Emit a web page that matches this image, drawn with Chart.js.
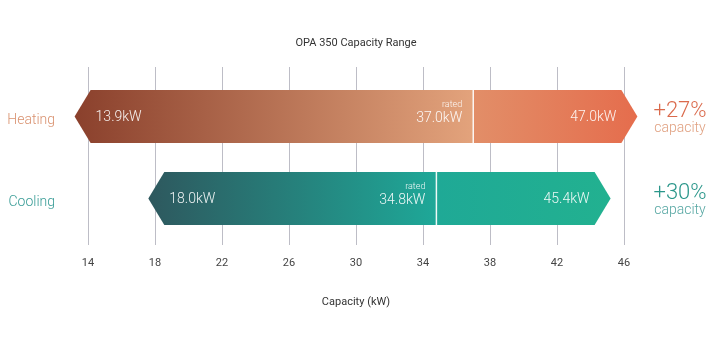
<!DOCTYPE html>
<html>
<head>
<meta charset="utf-8">
<script src="https://cdn.jsdelivr.net/npm/chart.js@4.4.0/dist/chart.umd.min.js"></script>
<style>
html, body { margin: 0; padding: 0; background: #fff; }
#wrap { width: 719px; height: 346px; }
</style>
</head>
<body>
<div id="wrap"><canvas id="capacityChart"></canvas></div>
<script>
// data
const systems = ['Heating', 'Cooling'];
const minCapacity = [13.9, 18.0];
const ratedCapacity = [37.0, 34.8];
const maxCapacity = [47.0, 45.4];
// where the arrow tips sit on the axis
const arrowStart = [13.2, 17.6];
const arrowEnd = [46.8, 45.2];
const gainLabels = ['+27%', '+30%'];
const xTicks = [14, 18, 22, 26, 30, 34, 38, 42, 46];

const palette = [
    { label: '#D9916F', gain: '#DA6A4C', sub: '#E0A080', left: ['#8A402C', '#E3A37C'], right: ['#E28E68', '#E56D4D'] },
    { label: '#389C96', gain: '#2A968A', sub: '#55A6A2', left: ['#2E585E', '#1EA898'], right: ['#1FA996', '#22B190'] }
];

const FONT = "Roboto, 'Noto Sans', sans-serif";

const rangeArrows = {
    id: 'rangeArrows',
    afterDatasetsDraw(chart) {
        const { ctx, chartArea } = chart;
        const x = chart.scales.x, y = chart.scales.y;
        const meta = chart.getDatasetMeta(0);
        const d = 16;

        systems.forEach((name, i) => {
            const bar = meta.data[i];
            const cy = y.getPixelForValue(i);
            const h = bar.height;
            const top = cy - h / 2, bot = cy + h / 2;
            const x0 = x.getPixelForValue(arrowStart[i]);
            const x1 = x.getPixelForValue(arrowEnd[i]);
            const xr = x.getPixelForValue(ratedCapacity[i]);
            const c = palette[i];

            const shape = () => {
                ctx.beginPath();
                ctx.moveTo(x0, cy);
                ctx.lineTo(x0 + d, top);
                ctx.lineTo(x1 - d, top);
                ctx.lineTo(x1, cy);
                ctx.lineTo(x1 - d, bot);
                ctx.lineTo(x0 + d, bot);
                ctx.closePath();
            };

            // left part: min -> rated
            ctx.save();
            ctx.beginPath();
            ctx.rect(x0 - 1, top - 1, xr - x0 + 1, h + 2);
            ctx.clip();
            let g = ctx.createLinearGradient(x0, 0, xr, 0);
            g.addColorStop(0, c.left[0]);
            g.addColorStop(1, c.left[1]);
            ctx.fillStyle = g;
            shape();
            ctx.fill();
            ctx.restore();

            // right part: rated -> max
            ctx.save();
            ctx.beginPath();
            ctx.rect(xr, top - 1, x1 - xr + 1, h + 2);
            ctx.clip();
            g = ctx.createLinearGradient(xr, 0, x1, 0);
            g.addColorStop(0, c.right[0]);
            g.addColorStop(1, c.right[1]);
            ctx.fillStyle = g;
            shape();
            ctx.fill();
            ctx.restore();

            // rated marker
            ctx.save();
            ctx.strokeStyle = 'rgba(255,255,255,0.9)';
            ctx.lineWidth = 1.5;
            ctx.beginPath();
            ctx.moveTo(xr, top);
            ctx.lineTo(xr, bot);
            ctx.stroke();

            // labels inside the bar
            ctx.fillStyle = 'rgba(255,255,255,0.92)';
            ctx.textBaseline = 'middle';
            ctx.font = '300 14px ' + FONT;
            ctx.textAlign = 'left';
            ctx.fillText(minCapacity[i].toFixed(1) + 'kW', x0 + 21, cy + 1);
            ctx.textAlign = 'right';
            ctx.fillText(ratedCapacity[i].toFixed(1) + 'kW', xr - 11, cy + 2);
            ctx.fillText(maxCapacity[i].toFixed(1) + 'kW', x1 - 21, cy + 1);
            ctx.font = '300 9px ' + FONT;
            ctx.fillText('rated', xr - 11, cy - 12);

            // gain note on the right
            ctx.textAlign = 'center';
            ctx.fillStyle = c.gain;
            ctx.font = '300 22px ' + FONT;
            ctx.fillText(gainLabels[i], chartArea.right + 56, cy - 5);
            ctx.fillStyle = c.sub;
            ctx.font = '300 14px ' + FONT;
            ctx.fillText('capacity', chartArea.right + 56, cy + 12);
            ctx.restore();
        });
    }
};

new Chart(document.getElementById('capacityChart'), {
    type: 'bar',
    data: {
        datasets: [{
            label: 'Capacity range',
            data: systems.map((s, i) => ({ y: i, x: [arrowStart[i], arrowEnd[i]] })),
            backgroundColor: 'rgba(0,0,0,0)',
            borderWidth: 0,
            barThickness: 53
        }]
    },
    options: {
        indexAxis: 'y',
        responsive: true,
        maintainAspectRatio: false,
        animation: false,
        layout: { padding: { left: 0, right: 7, top: 0, bottom: 0 } },
        plugins: {
            legend: { display: false },
            tooltip: { enabled: false },
            title: {
                display: true,
                text: 'OPA 350 Capacity Range',
                color: '#333',
                font: { size: 11, family: FONT, weight: 'normal' },
                padding: { top: 37, bottom: 16.8 }
            }
        },
        scales: {
            x: {
                type: 'linear',
                min: 14,
                max: 46,
                afterBuildTicks: scale => { scale.ticks = xTicks.map(v => ({ value: v })); },
                afterFit: scale => { scale.height = 101; },
                grid: { color: '#BDBDC6', lineWidth: 1, drawTicks: false },
                border: { display: false },
                ticks: { color: '#444', padding: 12, font: { size: 11, family: FONT } },
                title: {
                    display: true,
                    text: 'Capacity (kW)',
                    color: '#333',
                    font: { size: 11, family: FONT },
                    padding: { top: 0, bottom: 37.5 }
                }
            },
            y: {
                type: 'linear',
                reverse: true,
                offset: false,
                min: -0.604,
                max: 1.567,
                afterBuildTicks: scale => { scale.ticks = systems.map((s, i) => ({ value: i })); },
                afterFit: scale => { scale.width = 88; },
                grid: { display: false, drawTicks: false },
                border: { display: false },
                ticks: {
                    padding: 33,
                    labelOffset: 4,
                    font: { size: 14, family: FONT, weight: '300' },
                    color: c => palette[c.tick ? c.tick.value : 0].label,
                    callback: v => systems[v]
                }
            },
            // empty strip on the right for the gain notes
            side: {
                type: 'linear',
                axis: 'y',
                position: 'right',
                display: true,
                afterFit: scale => { scale.width = 88; },
                grid: { display: false, drawTicks: false },
                border: { display: false },
                ticks: { display: false }
            }
        }
    },
    plugins: [rangeArrows]
});
</script>
</body>
</html>
